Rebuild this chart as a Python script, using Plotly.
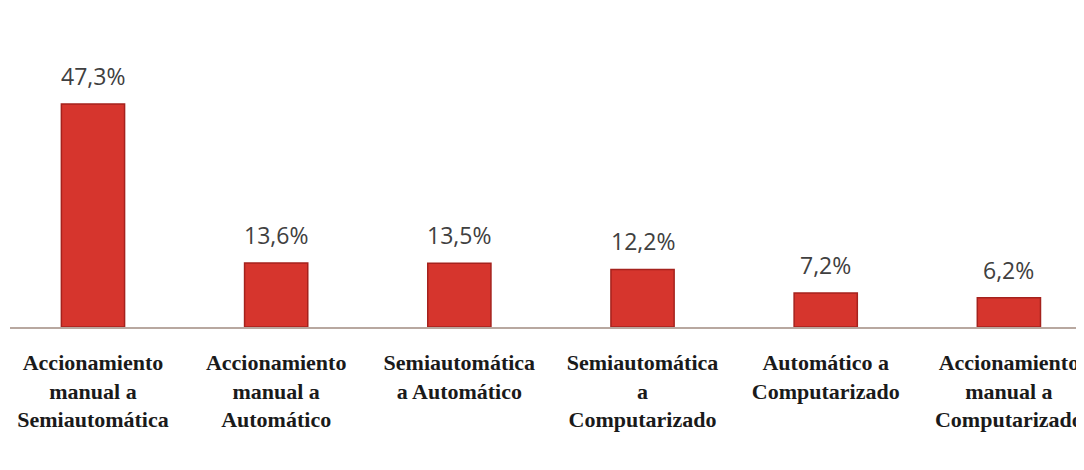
import plotly.graph_objects as go

categories = [
    "Accionamiento<br>manual a<br>Semiautomática",
    "Accionamiento<br>manual a<br>Automático",
    "Semiautomática<br>a Automático",
    "Semiautomática<br>a<br>Computarizado",
    "Automático a<br>Computarizado",
    "Accionamiento<br>manual a<br>Computarizado",
]
values = [47.3, 13.6, 13.5, 12.2, 7.2, 6.2]
value_labels = ["47,3%", "13,6%", "13,5%", "12,2%", "7,2%", "6,2%"]

idx = list(range(len(categories)))

fig = go.Figure()
fig.add_trace(go.Bar(
    x=idx, y=values, width=0.345,
    marker=dict(color="#D6352D", line=dict(color="#A5221D", width=1.5)),
    hoverinfo="skip",
))

for i, v, t in zip(idx, values, value_labels):
    fig.add_annotation(x=i, y=v, text=t, showarrow=False, yanchor="bottom",
                       yshift=10, font=dict(family="Open Sans", size=23, color="#404040"))

fig.update_layout(
    width=1084, height=470,
    margin=dict(l=2, r=8, t=0, b=151),
    paper_bgcolor="white", plot_bgcolor="white",
    showlegend=False,
    xaxis=dict(
        tickmode="array", tickvals=idx, ticktext=categories,
        range=[-0.453, 5.41], showgrid=False, zeroline=False,
        showline=True, linecolor="#B8A8A0", linewidth=1.5,
        ticks="", ticklabelstandoff=15, ticklabeloverflow="allow",
        tickfont=dict(family="Liberation Serif", size=22, color="#1a1a1a", weight="bold"),
    ),
    yaxis=dict(range=[0, 67.67], visible=False, showgrid=False, zeroline=False),
)

fig.write_html("out.html")
